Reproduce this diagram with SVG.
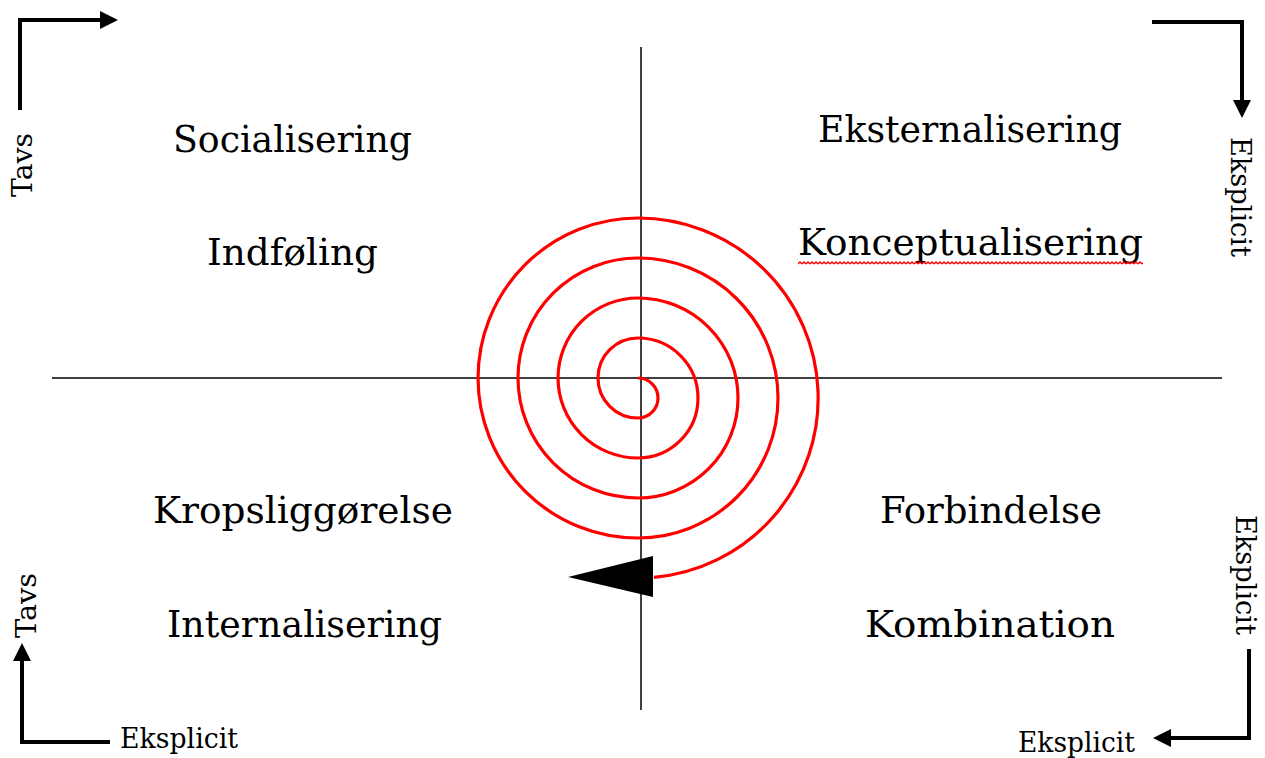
<svg xmlns="http://www.w3.org/2000/svg" width="1265" height="758" viewBox="0 0 1265 758">
<style>
.lbl{font-family:"DejaVu Serif","Liberation Serif",serif;font-size:37px;fill:#000}
.sm{font-family:"DejaVu Serif","Liberation Serif",serif;font-size:27px;fill:#000}
.axis{stroke:#000;stroke-width:1.5;fill:none}
.corner{stroke:#000;stroke-width:4;fill:none;stroke-linejoin:miter;marker-end:url(#ah)}
.spiral{stroke:#ff0000;stroke-width:3.2;fill:none}
</style>
<defs>
<marker id="ah" viewBox="0 0 18 18" refX="2" refY="9" markerWidth="18" markerHeight="18" markerUnits="userSpaceOnUse" orient="auto">
<path d="M0,0 L18,9 L0,18 z" fill="#000"/>
</marker>
<pattern id="wave" x="798" y="261" width="4" height="4" patternUnits="userSpaceOnUse">
<path d="M0,3 L2,1 L4,3" stroke="#ff0000" stroke-width="1.3" fill="none"/>
</pattern>
</defs>
<rect width="1265" height="758" fill="#fff"/>
<g id="connectors">
<line class="axis" x1="52" y1="378" x2="1222" y2="378"/>
<line class="axis" x1="641" y1="47" x2="641" y2="710"/>
<path class="spiral" d="M638,378 A20,20 0 0 1 638,418 A40,40 0 0 1 638,338 A60,60 0 0 1 638,458 A80,80 0 0 1 638,298 A100,100 0 0 1 638,498 A120,120 0 0 1 638,258 A140,140 0 0 1 638,538 A160,160 0 0 1 638,218 A180,180 0 0 1 654,577.3"/>
<polygon points="653,556 653,597 568,577" fill="#000"/>
<path class="corner" d="M20,110 V20 H102"/>
<path class="corner" d="M1152,22 H1242 V102"/>
<path class="corner" d="M110,742 H22 V659"/>
<path class="corner" d="M1249,649 V738 H1169"/>
</g>
<g id="socialisering"><text class="lbl" x="173" y="152" textLength="239" lengthAdjust="spacingAndGlyphs">Socialisering</text></g>
<g id="indfoling"><text class="lbl" x="207" y="265" textLength="171" lengthAdjust="spacingAndGlyphs">Indføling</text></g>
<g id="eksternalisering"><text class="lbl" x="818" y="142" textLength="304" lengthAdjust="spacingAndGlyphs">Eksternalisering</text></g>
<g id="konceptualisering"><text class="lbl" x="798" y="255" textLength="345" lengthAdjust="spacingAndGlyphs">Konceptualisering</text>
<rect x="798" y="261" width="345" height="4" fill="url(#wave)"/></g>
<g id="kropsliggorelse"><text class="lbl" x="153" y="523" textLength="300" lengthAdjust="spacingAndGlyphs">Kropsliggørelse</text></g>
<g id="internalisering"><text class="lbl" x="167" y="637" textLength="275" lengthAdjust="spacingAndGlyphs">Internalisering</text></g>
<g id="forbindelse"><text class="lbl" x="880" y="523" textLength="222" lengthAdjust="spacingAndGlyphs">Forbindelse</text></g>
<g id="kombination"><text class="lbl" x="865" y="637" textLength="250" lengthAdjust="spacingAndGlyphs">Kombination</text></g>
<g id="tavs-top"><text class="sm" transform="translate(32,197) rotate(-90)" textLength="64" lengthAdjust="spacingAndGlyphs">Tavs</text></g>
<g id="tavs-bottom"><text class="sm" transform="translate(36,638) rotate(-90)" textLength="65" lengthAdjust="spacingAndGlyphs">Tavs</text></g>
<g id="eksplicit-top-right"><text class="sm" transform="translate(1231,137) rotate(90)" textLength="120" lengthAdjust="spacingAndGlyphs">Eksplicit</text></g>
<g id="eksplicit-right"><text class="sm" transform="translate(1236,515) rotate(90)" textLength="120" lengthAdjust="spacingAndGlyphs">Eksplicit</text></g>
<g id="eksplicit-bottom-left"><text class="sm" x="120" y="748" textLength="118" lengthAdjust="spacingAndGlyphs">Eksplicit</text></g>
<g id="eksplicit-bottom-right"><text class="sm" x="1018" y="752" textLength="117" lengthAdjust="spacingAndGlyphs">Eksplicit</text></g>
</svg>
